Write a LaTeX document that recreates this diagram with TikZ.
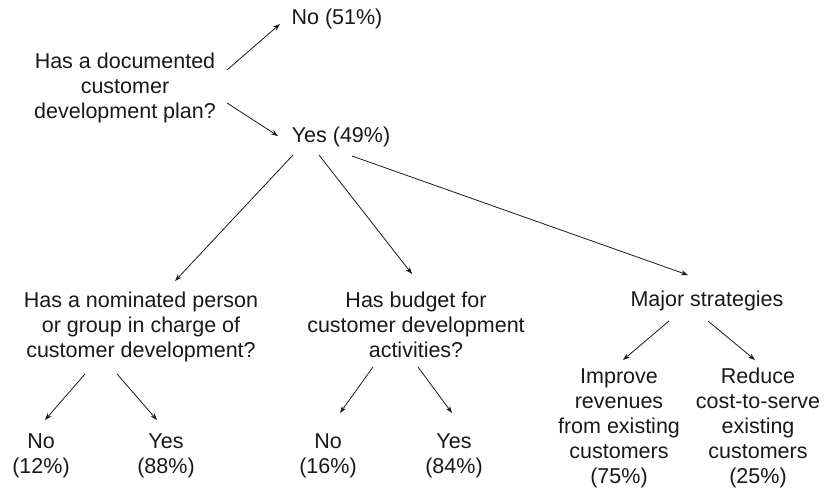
\documentclass[tikz,border=0pt]{standalone}
\usepackage{fontspec}
\setmainfont{Liberation Sans}
\usetikzlibrary{arrows.meta}

\begin{document}
\begin{tikzpicture}[
x=1pt,
y=-1pt,
item/.style={
font=\fontsize{21.5}{25}\selectfont,
inner sep=0pt,
align=center,
text=black!90
},
arrow/.style={
-{Stealth[length=7pt,width=5pt]},
line width=0.8pt,
color=black!90
}
]
\useasboundingbox (0,0) rectangle (834,493);

\node[item] (plan) at (125,88)
{Has a documented\\customer\\development plan?};

\node[item, anchor=base] (noplan) at (337,24) {No (51\%)};
\node[item, anchor=base] (yesplan) at (341,142) {Yes (49\%)};

\node[item] (person) at (141,327)
{Has a nominated person\\or group in charge of\\customer development?};

\node[item] (budget) at (416,325)
{Has budget for\\customer development\\activities?};

\node[item, anchor=base] (strategies) at (707,306) {Major strategies};

\node[item] (noperson) at (41,455.5) {No\\(12\%)};
\node[item] (yesperson) at (166,455.5) {Yes\\(88\%)};
\node[item] (nobudget) at (328,455.5) {No\\(16\%)};
\node[item] (yesbudget) at (454,455.5) {Yes\\(84\%)};

\node[item] (revenues) at (619,428)
{Improve\\revenues\\from existing\\customers\\(75\%)};

\node[item] (costs) at (758,428)
{Reduce\\cost-to-serve\\existing\\customers\\(25\%)};

\draw[arrow] ([shift={(102,-18)}]plan.center) -- ([shift={(-57,0)}]noplan.base);
\draw[arrow] ([shift={(102,15)}]plan.center) -- ([shift={(-63,-6)}]yesplan.base);

\draw[arrow] ([shift={(-48,13)}]yesplan.base) -- ([shift={(34,-46)}]person.center);
\draw[arrow] ([shift={(-22,13)}]yesplan.base) -- ([shift={(-4,-51)}]budget.center);
\draw[arrow] ([shift={(11,14)}]yesplan.base) -- ([shift={(-19,-31)}]strategies.base);

\draw[arrow] ([shift={(-56,47)}]person.center) -- ([shift={(4,-35.5)}]noperson.center);
\draw[arrow] ([shift={(-24,47)}]person.center) -- ([shift={(-9,-35.5)}]yesperson.center);

\draw[arrow] ([shift={(-43,42)}]budget.center) -- ([shift={(12,-42.5)}]nobudget.center);
\draw[arrow] ([shift={(2,42)}]budget.center) -- ([shift={(-2,-42.5)}]yesbudget.center);

\draw[arrow] ([shift={(-38,15)}]strategies.base) -- ([shift={(4,-68)}]revenues.center);
\draw[arrow] ([shift={(1,15)}]strategies.base) -- ([shift={(-3,-68)}]costs.center);

\end{tikzpicture}
\end{document}
